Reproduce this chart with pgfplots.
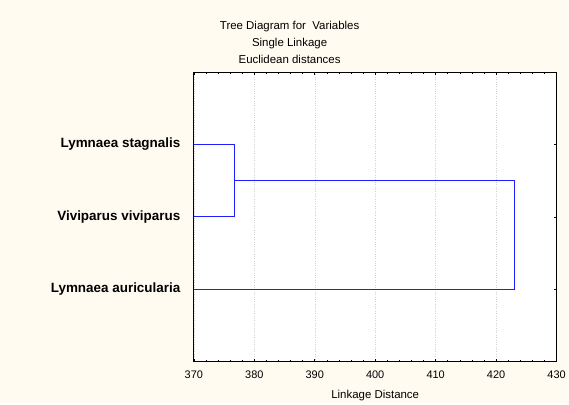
\documentclass[border=0pt]{standalone}
\usepackage{fontspec}
\setmainfont{Liberation Sans}
\usepackage{pgfplots}
\pgfplotsset{compat=1.18}
\definecolor{bgcream}{RGB}{255,251,240}
\definecolor{treeblue}{RGB}{30,30,255}
\begin{document}
\begin{tikzpicture}[x=1bp,y=1bp]
\fill[bgcream] (0,0) rectangle (569,403);
\begin{axis}[
  at={(194bp,41bp)}, anchor=south west,
  scale only axis, width=363bp, height=290bp,
  axis background/.style={fill=white},
  axis line style={black, line width=0.8bp},
  xmin=370, xmax=430, ymin=0, ymax=4, y dir=reverse,
  xtick={370,380,...,430}, minor x tick num=4,
  ytick={1,2,3},
  yticklabels={Lymnaea stagnalis, Viviparus viviparus, Lymnaea auricularia},
  ytick pos=right, yticklabel pos=left,
  xtick pos=both, tick align=inside,
  major tick length=3bp, minor tick length=2bp,
  tick style={black, line width=0.6bp},
  xmajorgrids, grid style={dotted, black!18},
  /pgf/number format/assume math mode=true,
  xticklabel style={font=\fontsize{11}{13}\selectfont, yshift=-6bp},
  yticklabel style={font=\fontsize{13.5}{15}\selectfont\bfseries, xshift=-10bp},
  title={Tree Diagram for\ \ Variables\\Single Linkage\\Euclidean distances},
  title style={at={(0.264,1.156)}, anchor=north, align=center,
    font=\fontsize{11.5}{17}\selectfont, inner sep=0pt},
  xlabel={Linkage Distance},
  xlabel style={at={(0.5,-0.117)}, anchor=center, font=\fontsize{11.5}{13}\selectfont},
]
% leaves joined at 376.8, then all at 423.1
\addplot[treeblue, line width=1bp] coordinates {(370,1) (376.8,1) (376.8,2) (370,2)};
\addplot[treeblue, line width=1bp] coordinates {(376.8,1.5) (423.1,1.5) (423.1,3) (370,3)};
\end{axis}
\end{tikzpicture}
\end{document}
